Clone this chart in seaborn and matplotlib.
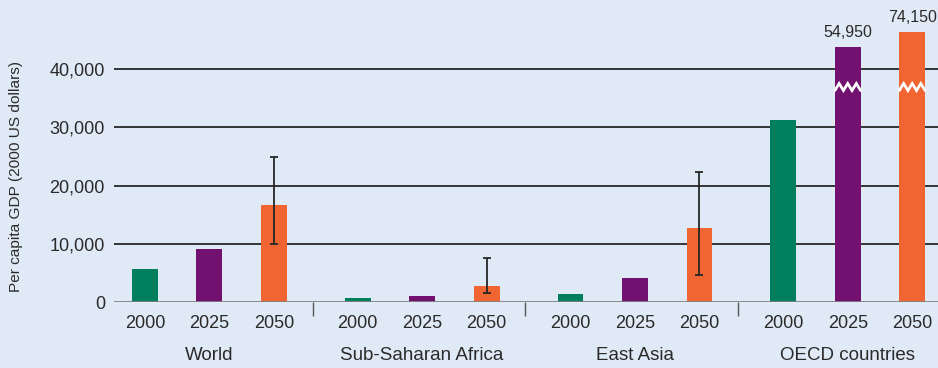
import matplotlib
matplotlib.use("Agg")
import matplotlib.pyplot as plt
import matplotlib.transforms as mtransforms
import seaborn as sns
import pandas as pd
import numpy as np

# ---------- data ----------
regions = ["World", "Sub-Saharan Africa", "East Asia", "OECD countries"]
years = ["2000", "2025", "2050"]
gdp_2000 = [5700, 700, 1400, 31200]
gdp_2025 = [9100, 1000, 4100, 54950]
gdp_2050 = [16600, 2700, 12700, 74150]
# the two OECD projections are drawn with a broken (shortened) bar
oecd_drawn_2025 = 43700
oecd_drawn_2050 = 46300
err_lo_2050 = [9900, 1500, 4700]
err_hi_2050 = [24900, 7600, 22300]
break_at = 36900

BG = "#E0EAF6"
colors = {"2000": "#007F5F", "2025": "#72116F", "2050": "#F16532"}
TXT = "#2a2a2a"

sns.set_theme(style="white")
plt.rcParams["font.family"] = ["Liberation Sans", "DejaVu Sans"]

# layout: positions of bars inside groups
GAP = 3.3
rows = []
vals = {"2000": gdp_2000, "2025": gdp_2025, "2050": gdp_2050}
for i, r in enumerate(regions):
    for j, y in enumerate(years):
        v = vals[y][i]
        drawn = v
        if r == "OECD countries" and y == "2025":
            drawn = oecd_drawn_2025
        if r == "OECD countries" and y == "2050":
            drawn = oecd_drawn_2050
        rows.append({"region": r, "year": y, "value": v, "drawn": drawn,
                     "pos": round(i * GAP + j, 2)})
df = pd.DataFrame(rows)

fig = plt.figure(figsize=(9.38, 3.68), dpi=100)
fig.patch.set_facecolor(BG)
ax = fig.add_axes([0.1215, 0.179, 0.8785, 0.7446])
ax.set_facecolor(BG)

sns.barplot(data=df, x="pos", y="drawn", hue="year", palette=colors,
            native_scale=True, dodge=False, width=0.4, saturation=1,
            linewidth=0, errorbar=None, legend=False, ax=ax, zorder=3)

# gridlines
for g in [10000, 20000, 30000, 40000]:
    ax.axhline(g, color="#262626", lw=1.3, zorder=1)
ax.axhline(0, color="#808080", lw=2, zorder=4)

# error bars on 2050 projections
e = df[(df.year == "2050") & (df.region != "OECD countries")]
mid = [(lo + hi) / 2 for lo, hi in zip(err_lo_2050, err_hi_2050)]
half = [(hi - lo) / 2 for lo, hi in zip(err_lo_2050, err_hi_2050)]
ax.errorbar(e.pos, mid, yerr=half, fmt="none", ecolor="#262626",
            elinewidth=1.3, capsize=3.2, capthick=1.3, zorder=5)

# break marks + value labels for the OECD projections
o = df[(df.region == "OECD countries") & (df.year != "2000")]
for _, r in o.iterrows():
    xs = np.linspace(r.pos - 0.2, r.pos + 0.2, 7)
    ys = [break_at + (600 if k % 2 else -600) for k in range(7)]
    ax.plot(xs, ys, color="white", lw=2, zorder=6, solid_joinstyle="miter")
    ax.annotate(f"{r.value:,}", (r.pos, r.drawn), xytext=(0, 5),
                textcoords="offset points", ha="center", va="bottom",
                fontsize=11.5, color=TXT, annotation_clip=False)

ax.set_xlim(-0.48, 12.3)
ax.set_ylim(0, 47000)
ax.set_xticks(df.pos)
ax.set_xticklabels(df.year)
ax.set_yticks([0, 10000, 20000, 30000, 40000])
ax.set_yticklabels(["0", "10,000", "20,000", "30,000", "40,000"])
ax.tick_params(axis="both", length=0, labelsize=13, colors=TXT)
ax.tick_params(axis="y", pad=6.5)
ax.tick_params(axis="x", pad=9)

# group separators as minor ticks
ax.set_xticks([i * GAP + 2.6 for i in range(3)], minor=True)
ax.tick_params(axis="x", which="minor", bottom=True, length=10, width=1,
               color="#555555", direction="out")
ax.set_xlabel("")
ax.set_ylabel("")
for s in ax.spines.values():
    s.set_visible(False)

# group names
trans = mtransforms.blended_transform_factory(ax.transData, ax.transAxes)
for i, r in enumerate(regions):
    ax.text(i * GAP + 1, -0.193, r, transform=trans, ha="center", va="center",
            fontsize=13.5, color=TXT)

fig.text(0.017, 0.52, "Per capita GDP (2000 US dollars)", rotation=90,
         ha="center", va="center", fontsize=11.1, color=TXT)

fig.savefig("out.png", dpi=100, facecolor=BG)
